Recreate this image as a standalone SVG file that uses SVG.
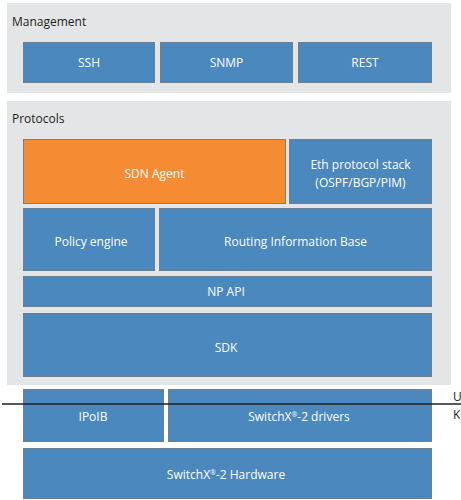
<svg xmlns="http://www.w3.org/2000/svg" width="461" height="500" viewBox="0 0 461 500">
<style>
.panel{fill:#e4e5e7;stroke:none}
.box{fill:#4a88bd;stroke:#6f7f8e;stroke-width:1}
.orange{fill:#f58b33;stroke:#8a7c70;stroke-width:1}
.t{font-family:"Open Sans","Noto Sans","Liberation Sans",sans-serif;font-size:12px;fill:#ffffff;text-anchor:middle}
.h{font-family:"Open Sans","Noto Sans","Liberation Sans",sans-serif;font-size:12px;fill:#231f20}
</style>
<rect width="461" height="500" fill="#ffffff"/>
<g id="management">
<rect class="panel" x="7" y="3" width="444" height="90"/>
<text class="h" x="12" y="26">Management</text>
</g>
<g id="ssh"><rect class="box" x="23.5" y="42.5" width="131" height="40"/><text class="t" x="89" y="67">SSH</text></g>
<g id="snmp"><rect class="box" x="160.5" y="42.5" width="132" height="40"/><text class="t" x="226.5" y="67">SNMP</text></g>
<g id="rest"><rect class="box" x="298.5" y="42.5" width="133" height="40"/><text class="t" x="365" y="67">REST</text></g>
<g id="protocols">
<rect class="panel" x="7" y="101" width="444" height="284"/>
<text class="h" x="12" y="123">Protocols</text>
</g>
<g id="sdn-agent"><rect class="orange" x="23.5" y="139.5" width="262" height="64"/><text class="t" x="154.5" y="178">SDN Agent</text></g>
<g id="eth-stack"><rect class="box" x="289.5" y="139.5" width="142" height="64"/><text class="t" x="360.5" y="169">Eth protocol stack</text><text class="t" x="360.5" y="187">(OSPF/BGP/PIM)</text></g>
<g id="policy-engine"><rect class="box" x="23.5" y="208.5" width="131" height="62"/><text class="t" x="91" y="246">Policy engine</text></g>
<g id="rib"><rect class="box" x="159.5" y="208.5" width="272" height="62"/><text class="t" x="295.5" y="246">Routing Information Base</text></g>
<g id="np-api"><rect class="box" x="23.5" y="276.5" width="408" height="30"/><text class="t" x="226" y="296">NP API</text></g>
<g id="sdk"><rect class="box" x="23.5" y="313.5" width="408" height="63"/><text class="t" x="226" y="352">SDK</text></g>
<g id="ipoib"><rect class="box" x="23.5" y="389.5" width="140" height="52"/><text class="t" x="93" y="421">IPoIB</text></g>
<g id="drivers"><rect class="box" x="168.5" y="389.5" width="263" height="52"/><text class="t" x="299" y="421">SwitchX<tspan font-size="7" dy="-4">®</tspan><tspan dy="4">-2 drivers</tspan></text></g>
<g id="hardware"><rect class="box" x="23.5" y="448.5" width="408" height="50"/><text class="t" x="226" y="479">SwitchX<tspan font-size="7" dy="-4">®</tspan><tspan dy="4">-2 Hardware</tspan></text></g>
<g id="connectors">
<line x1="2" y1="404" x2="461" y2="404" stroke="#231f20" stroke-width="1.5"/>
</g>
<g id="labels">
<text class="h" x="453" y="401">U</text>
<text class="h" x="453" y="419">K</text>
</g>
</svg>
